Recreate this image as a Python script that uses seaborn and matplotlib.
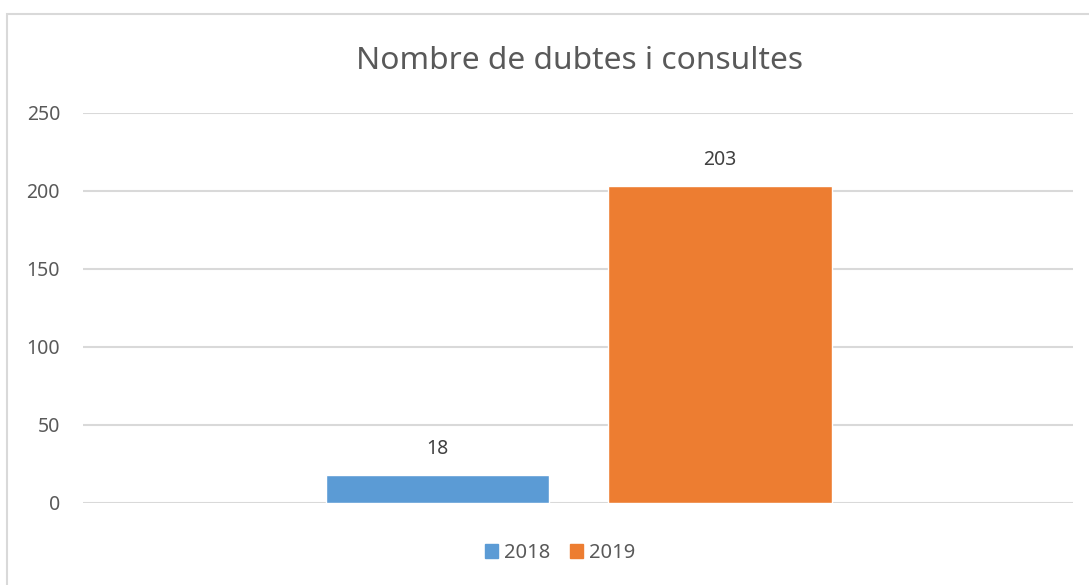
import matplotlib
matplotlib.use("Agg")
import matplotlib.pyplot as plt
from matplotlib.patches import Rectangle
import seaborn as sns
import pandas as pd

# Data
years = ["2018", "2019"]
counts = [18, 203]
colors = ["#5B9BD5", "#ED7D31"]

df = pd.DataFrame({"year": years, "count": counts})

sns.set_style("white")
plt.rcParams["font.family"] = ["Noto Sans", "DejaVu Sans"]

W, H = 1089, 585
fig = plt.figure(figsize=(W / 100, H / 100), dpi=100)
ax = fig.add_axes([83 / W, 82 / H, (1073 - 83) / W, (503 - 113) / H])

sns.barplot(data=df, x="year", y="count", hue="year", palette=colors,
            width=0.79, saturation=1, legend=False, ax=ax)

ax.set_ylim(0, 250)
ax.set_xlim(-1.255, 2.25)
ax.set_yticks(range(0, 251, 50))
ax.grid(axis="y", color="#D9D9D9", linewidth=1.5)
ax.set_axisbelow(True)
for s in ax.spines.values():
    s.set_visible(False)
ax.set_xticks([])
ax.set_xlabel("")
ax.set_ylabel("")
ax.tick_params(axis="y", length=0, pad=16.5, labelsize=14, labelcolor="#595959")

# value labels above bars
for i, v in enumerate(counts):
    ax.annotate(str(v), (i, v), xytext=(0, 19), textcoords="offset points",
                ha="center", va="center", fontsize=14, color="#404040")

fig.text(579 / W, 1 - 61 / H, "Nombre de dubtes i consultes", ha="center", va="center",
         fontsize=22.8, color="#595959")

handles = [Rectangle((0, 0), 1, 1, color=c) for c in colors]
fig.legend(handles, years, loc="center", bbox_to_anchor=(560 / W, 1 - 553 / H), ncol=2,
           frameon=False, fontsize=14.5, labelcolor="#595959", handlelength=0.65,
           handleheight=0.65, handletextpad=0.3, columnspacing=1.0)

# outer chart border
fig.add_artist(Rectangle((7 / W, -0.05), 1.1, 1 - 14 / H + 0.05, transform=fig.transFigure,
                         fill=False, edgecolor="#D9D9D9", linewidth=1.5))

fig.savefig("out.png", dpi=100)
